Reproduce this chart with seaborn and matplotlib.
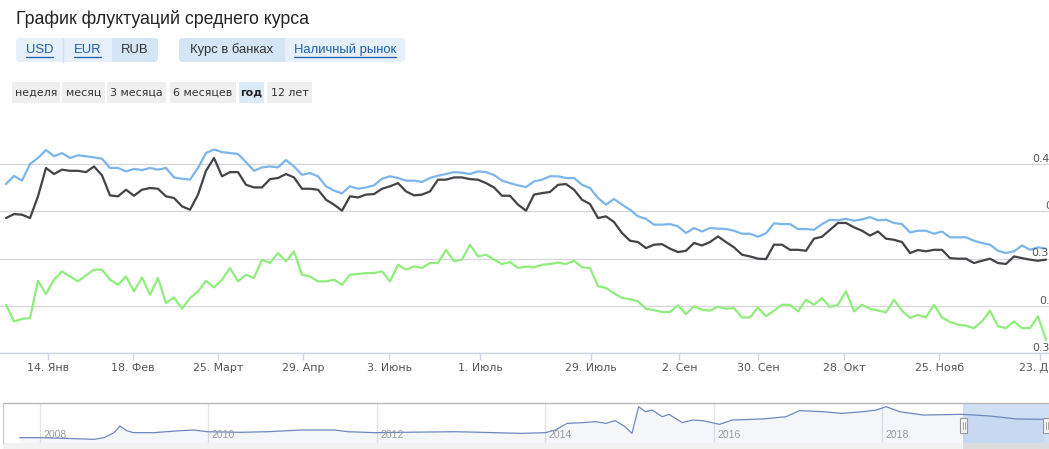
import numpy as np
import pandas as pd
import matplotlib
matplotlib.use("Agg")
import matplotlib.pyplot as plt
import seaborn as sns
from matplotlib.patches import FancyBboxPatch, Rectangle

# ---------------- data ----------------
blue_vals = [
    0.4144, 0.4187, 0.4162, 0.4250, 0.4282, 0.4324, 0.4291, 0.4308, 0.4282, 0.4296, 0.4291,
    0.4285, 0.4278, 0.4229, 0.4229, 0.4211, 0.4224, 0.4218, 0.4229, 0.4220, 0.4229, 0.4179,
    0.4172, 0.4167, 0.4229, 0.4308, 0.4327, 0.4313, 0.4308, 0.4303, 0.4260, 0.4214, 0.4232,
    0.4237, 0.4232, 0.4271, 0.4237, 0.4193, 0.4202, 0.4185, 0.4132, 0.4109, 0.4095,
    0.4132, 0.4119, 0.4126, 0.4137, 0.4172, 0.4185, 0.4176, 0.4162, 0.4162, 0.4155, 0.4176,
    0.4188, 0.4197, 0.4207, 0.4204, 0.4197, 0.4211, 0.4207, 0.4192, 0.4162, 0.4149, 0.4137,
    0.4128, 0.4158, 0.4167, 0.4185, 0.4185, 0.4176, 0.4176, 0.4140, 0.4123, 0.4070, 0.4035,
    0.4065, 0.4035, 0.4008, 0.3973, 0.3960, 0.3929, 0.3929, 0.3932, 0.3920, 0.3885, 0.3911,
    0.3893, 0.3911, 0.3908, 0.3906, 0.3897, 0.3881, 0.3881, 0.3865, 0.3883, 0.3936, 0.3932,
    0.3932, 0.3906, 0.3906, 0.3902, 0.3932, 0.3955, 0.3952, 0.3960, 0.3950, 0.3957, 0.3969,
    0.3952, 0.3955, 0.3938, 0.3932, 0.3888, 0.3897, 0.3897, 0.3881, 0.3893, 0.3862, 0.3862,
    0.3862, 0.3844, 0.3832, 0.3823, 0.3791, 0.3779, 0.3788, 0.3819, 0.3796, 0.3809, 0.3802,
]
black_vals = [
    0.3964, 0.3985, 0.3982, 0.3964, 0.4079, 0.4229, 0.4197, 0.4220, 0.4214, 0.4214, 0.4207,
    0.4237, 0.4190, 0.4084, 0.4079, 0.4114, 0.4082, 0.4114, 0.4123, 0.4119, 0.4079, 0.4070,
    0.4026, 0.4008, 0.4088, 0.4214, 0.4282, 0.4185, 0.4207, 0.4207, 0.4140, 0.4126, 0.4126,
    0.4170, 0.4176, 0.4197, 0.4179, 0.4119, 0.4119, 0.4114, 0.4061, 0.4035, 0.4003,
    0.4079, 0.4073, 0.4088, 0.4091, 0.4119, 0.4132, 0.4149, 0.4105, 0.4084, 0.4088, 0.4105,
    0.4167, 0.4167, 0.4179, 0.4179, 0.4170, 0.4167, 0.4149, 0.4126, 0.4082, 0.4082, 0.4035,
    0.4003, 0.4088, 0.4096, 0.4102, 0.4140, 0.4144, 0.4114, 0.4061, 0.4038, 0.3964, 0.3973,
    0.3943, 0.3885, 0.3844, 0.3837, 0.3805, 0.3823, 0.3826, 0.3802, 0.3784, 0.3791, 0.3832,
    0.3819, 0.3837, 0.3867, 0.3837, 0.3809, 0.3770, 0.3761, 0.3749, 0.3747, 0.3823, 0.3823,
    0.3796, 0.3796, 0.3791, 0.3855, 0.3865, 0.3902, 0.3938, 0.3938, 0.3915, 0.3897, 0.3871,
    0.3893, 0.3855, 0.3849, 0.3837, 0.3779, 0.3795, 0.3788, 0.3796, 0.3796, 0.3752, 0.3749,
    0.3749, 0.3726, 0.3738, 0.3749, 0.3726, 0.3721, 0.3761, 0.3752, 0.3744, 0.3738, 0.3744,
]
green_vals = [
    0.3505, 0.3417, 0.3430, 0.3435, 0.3632, 0.3562, 0.3638, 0.3682, 0.3655, 0.3629, 0.3661,
    0.3691, 0.3691, 0.3638, 0.3611, 0.3655, 0.3576, 0.3650, 0.3558, 0.3647, 0.3514, 0.3544,
    0.3484, 0.3541, 0.3576, 0.3632, 0.3597, 0.3638, 0.3700, 0.3629, 0.3664, 0.3647, 0.3744,
    0.3726, 0.3779, 0.3735, 0.3788, 0.3664, 0.3655, 0.3629, 0.3629, 0.3638, 0.3611,
    0.3664, 0.3668, 0.3673, 0.3673, 0.3682, 0.3629, 0.3717, 0.3691, 0.3708, 0.3700, 0.3726,
    0.3726, 0.3796, 0.3735, 0.3744, 0.3823, 0.3761, 0.3770, 0.3744, 0.3721, 0.3731, 0.3700,
    0.3707, 0.3703, 0.3717, 0.3721, 0.3728, 0.3721, 0.3738, 0.3703, 0.3700, 0.3603, 0.3594,
    0.3565, 0.3541, 0.3535, 0.3523, 0.3484, 0.3477, 0.3467, 0.3467, 0.3502, 0.3456, 0.3497,
    0.3479, 0.3474, 0.3495, 0.3484, 0.3488, 0.3438, 0.3438, 0.3491, 0.3444, 0.3474, 0.3505,
    0.3505, 0.3470, 0.3532, 0.3505, 0.3541, 0.3493, 0.3505, 0.3576, 0.3470, 0.3505, 0.3484,
    0.3475, 0.3465, 0.3532, 0.3474, 0.3435, 0.3452, 0.3438, 0.3505, 0.3438, 0.3414, 0.3400,
    0.3394, 0.3382, 0.3417, 0.3474, 0.3391, 0.3382, 0.3417, 0.3382, 0.3382, 0.3444, 0.3320,
]
# x-axis ticks (ordinal point index at which each date label falls)
tick_pos = [5.21, 15.84, 26.5, 37.16, 47.91, 59.29, 73.09, 84.16, 94.04, 104.75, 116.66, 129.25]
tick_labels = ["14. Янв", "18. Фев", "25. Март", "29. Апр", "3. Июнь", "1. Июль",
               "29. Июль", "2. Сен", "30. Сен", "28. Окт", "25. Нояб", "23. Дек"]
y_ticks = [0.325, 0.35, 0.375, 0.4, 0.425]
y_tick_labels = ["0.325", "0.35", "0.375", "0.4", "0.425"]

# navigator (12-year overview)
nav_years = [2007.76, 2008.00, 2008.32, 2008.64, 2008.76, 2008.88, 2008.95, 2009.03, 2009.11,
             2009.35, 2009.67, 2009.83, 2009.99, 2010.38, 2010.70, 2011.10, 2011.50, 2011.66,
             2011.97, 2012.29, 2012.93, 2013.24, 2013.72, 2014.00, 2014.12, 2014.26, 2014.44,
             2014.60, 2014.72, 2014.83, 2014.95, 2015.03, 2015.11, 2015.19, 2015.27, 2015.39,
             2015.47, 2015.63, 2015.75, 2015.87, 2016.07, 2016.22, 2016.58, 2016.86, 2017.02,
             2017.30, 2017.53, 2017.77, 2017.93, 2018.05, 2018.21, 2018.49, 2018.96, 2019.28,
             2019.60, 2019.92]
nav_vals = [0.210, 0.210, 0.204, 0.196, 0.210, 0.252, 0.308, 0.269, 0.252, 0.252, 0.269,
            0.274, 0.260, 0.255, 0.260, 0.274, 0.274, 0.260, 0.252, 0.255, 0.260, 0.255,
            0.246, 0.252, 0.274, 0.330, 0.336, 0.344, 0.330, 0.353, 0.302, 0.246, 0.470,
            0.428, 0.442, 0.386, 0.406, 0.336, 0.358, 0.353, 0.322, 0.358, 0.367, 0.386,
            0.437, 0.428, 0.414, 0.428, 0.442, 0.470, 0.428, 0.400, 0.406, 0.392, 0.367,
            0.364]
nav_year_ticks = [2008, 2010, 2012, 2014, 2016, 2018]
nav_year_labels = ["2008", "2010", "2012", "2014", "2016", "2018"]

title = "График флуктуаций среднего курса"
currency_buttons = ["USD", "EUR", "RUB"]
source_buttons = ["Курс в банках", "Наличный рынок"]
period_buttons = ["неделя", "месяц", "3 месяца", "6 месяцев", "год", "12 лет"]

# ---------------- style ----------------
sns.set_theme(style="white")
plt.rcParams["font.family"] = ["DejaVu Sans"]

W, H = 1049, 449
fig = plt.figure(figsize=(W / 100, H / 100), dpi=100)

# ---------------- main chart ----------------
ax = fig.add_axes([0 / W, 1 - 353 / H, 1.0, (353 - 116) / H])
ax.patch.set_alpha(0)
idx = np.arange(len(blue_vals))
df = pd.DataFrame({"idx": idx, "blue": blue_vals, "black": black_vals, "green": green_vals})
sns.lineplot(data=df, x="idx", y="blue", ax=ax, color="#7cb5ec", linewidth=1.6, legend=False)
sns.lineplot(data=df, x="idx", y="black", ax=ax, color="#434348", linewidth=1.6, legend=False)
sns.lineplot(data=df, x="idx", y="green", ax=ax, color="#90ed7d", linewidth=1.6, legend=False)

ax.set_xlim(-0.75, 130.375)
ax.set_ylim(0.325, 0.4504)
ax.set_xlabel("")
ax.set_ylabel("")
ax.set_yticks(y_ticks)
ax.set_yticklabels([])
ax.tick_params(axis="y", length=0)
ax.grid(axis="y", color="#d8d8d8", linewidth=1)
ax.grid(axis="x", visible=False)
ax.set_xticks(tick_pos)
ax.set_xticklabels(tick_labels, fontsize=7.9, color="#555555")
ax.tick_params(axis="x", length=5, width=1, color="#ccd6eb", pad=2.5, bottom=True)
for s in ["left", "right", "top"]:
    ax.spines[s].set_visible(False)
ax.spines["bottom"].set_color("#ccd6eb")
ax.spines["bottom"].set_linewidth(1)

# right-hand value labels (partly beyond the picture edge, as in the original)
for v, lab in zip(y_ticks, y_tick_labels):
    ax.annotate(lab, xy=(1063 / W, v), xycoords=("figure fraction", "data"),
                xytext=(0, 1.5), textcoords="offset points", ha="right", va="baseline",
                fontsize=7.9, color="#555555", annotation_clip=False)

# ---------------- navigator ----------------
nav = fig.add_axes([3 / W, 1 - 443 / H, (W - 3) / W, (443 - 403) / H])
nav.patch.set_alpha(0)
nav_lo = 0.1652
nav.set_xlim(2007.561, 2019.983)
nav.set_ylim(nav_lo, 0.5012)
nav.axvspan(2018.962, 2020.5, color="#cfe0f5", zorder=1, lw=0)
nav.fill_between(nav_years, nav_lo, nav_vals, color="#335cad", alpha=0.05, lw=0, zorder=2)
sns.lineplot(x=nav_years, y=nav_vals, ax=nav, color="#6d87bd", linewidth=0.9, legend=False, zorder=3)
nav.set_xticks(nav_year_ticks)
nav.set_xticklabels([])
nav.set_yticks([])
nav.tick_params(length=0)
nav.grid(axis="x", color="#e6e6e6", linewidth=1)
nav.grid(axis="y", visible=False)
for s in ["left", "right", "bottom"]:
    nav.spines[s].set_visible(False)
nav.spines["top"].set_color("#b8b8b8")
nav.spines["top"].set_linewidth(1)
for yr, lab in zip(nav_year_ticks, nav_year_labels):
    nav.text(yr + 0.04, 0.2, lab, transform=nav.get_xaxis_transform(), fontsize=7.5,
             color="#999999", va="center", ha="left", family="Liberation Sans")

# ---------------- UI overlay (pixel coordinates) ----------------
ui = fig.add_axes([0, 0, 1, 1])
ui.set_xlim(0, W)
ui.set_ylim(H, 0)
ui.axis("off")
ui.patch.set_alpha(0)
ui.set_zorder(10)

ui.text(16, 24, title, fontsize=12.8, color="#222222", ha="left", va="baseline",
        family="Liberation Sans")

light, dark = "#e5f0fa", "#d4e6f6"
# currency group
ui.add_patch(FancyBboxPatch((16, 38), 142, 24, boxstyle="round,pad=0,rounding_size=4",
                            fc=light, ec="none"))
ui.add_patch(FancyBboxPatch((112, 38), 46, 24, boxstyle="round,pad=0,rounding_size=4",
                            fc=dark, ec="none"))
ui.add_patch(Rectangle((112, 38), 8, 24, fc=dark, ec="none"))
ui.plot([63, 63], [38, 62], color="#cfe1f2", lw=1)
# source group
ui.add_patch(FancyBboxPatch((179, 38), 226, 24, boxstyle="round,pad=0,rounding_size=4",
                            fc=light, ec="none"))
ui.add_patch(FancyBboxPatch((179, 38), 106, 24, boxstyle="round,pad=0,rounding_size=4",
                            fc=dark, ec="none"))
ui.add_patch(Rectangle((277, 38), 8, 24, fc=dark, ec="none"))

link_col = "#1f5ea8"
links = []
cur_x = [39.5, 87.5, 135]
for lab, cx in zip(currency_buttons, cur_x):
    is_link = lab != "RUB"
    t = ui.text(cx, 50, lab, fontsize=9.4, color=link_col if is_link else "#333333",
                ha="center", va="center", family="Liberation Sans")
    if is_link:
        links.append(t)
src_x = [231.5, 345]
for lab, cx in zip(source_buttons, src_x):
    is_link = lab == "Наличный рынок"
    t = ui.text(cx, 50, lab, fontsize=9.4, color=link_col if is_link else "#333333",
                ha="center", va="center", family="Liberation Sans")
    if is_link:
        links.append(t)

# period buttons
per_box = [(12, 48), (62, 43), (107, 59), (170, 66), (239, 25), (267, 45)]
for lab, (x0, w) in zip(period_buttons, per_box):
    sel = lab == "год"
    ui.add_patch(Rectangle((x0, 82), w, 21, fc="#dcebf8" if sel else "#efefef", ec="none"))
    ui.text(x0 + w / 2, 92.5, lab, fontsize=7.9, color="#222222" if sel else "#333333",
            ha="center", va="center", fontweight="bold" if sel else "normal")

# scrollbar + navigator handles
ui.add_patch(Rectangle((3, 443), W - 3, 8, fc="#f2f2f2", ec="none"))
ui.add_patch(Rectangle((963, 443), W - 963, 8, fc="#dcdcdc", ec="none"))
ui.plot([3, 3], [403, 443], color="#d0d0d0", lw=1)
for hx in [960, 1043]:
    ui.add_patch(Rectangle((hx, 418), 7, 15, fc="#f2f2f2", ec="#999999", lw=0.8))
    ui.plot([hx + 2.5, hx + 2.5], [422, 429], color="#999999", lw=0.6)
    ui.plot([hx + 4.5, hx + 4.5], [422, 429], color="#999999", lw=0.6)

# underlines for link buttons
fig.canvas.draw()
r = fig.canvas.get_renderer()
for t in links:
    bb = t.get_window_extent(r)
    ui.plot([bb.x0, bb.x1], [56.5, 56.5], color=link_col, lw=0.9)

fig.savefig("out.png", dpi=100)
